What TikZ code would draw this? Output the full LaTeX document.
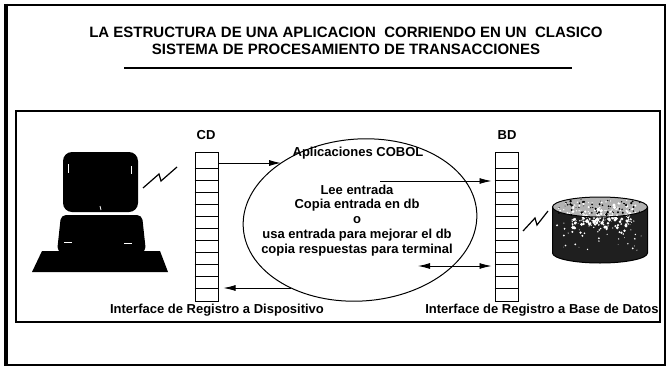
\documentclass[tikz,border=0pt]{standalone}
\usepackage{fontspec}
\setmainfont{Liberation Sans}
\usetikzlibrary{arrows.meta,calc,intersections}
\begin{document}
\begin{tikzpicture}[x=1pt,y=-1pt,
  frame/.style={draw=black,line width=1.3pt},
  titletext/.style={font=\bfseries\fontsize{15}{18}\selectfont,inner sep=0pt},
  labeltext/.style={font=\bfseries\fontsize{13}{15}\selectfont,inner sep=0pt},
  apptext/.style={font=\bfseries\fontsize{13}{15}\selectfont,inner sep=0pt},
  stack/.style={draw=black,line width=1pt,minimum width=23pt,minimum height=149pt,inner sep=0pt},
  cellline/.style={line width=0.9pt},
  flow/.style={line width=0.9pt,-{Latex[length=12pt,width=6pt]}},
  flowboth/.style={line width=0.9pt,{Latex[length=12pt,width=6pt]}-{Latex[length=12pt,width=6pt]}},
  zig/.style={line width=1.2pt,line join=miter},
  speck/.style={white,line width=0.8pt},
]
\useasboundingbox (0,0) rectangle (668,369);

% outer frame, heavier on the left
\draw[line width=1.2pt] (6,5) rectangle (665,365);
\draw[line width=3.5pt] (6,4) -- (6,366);

% title and its rule
\node[titletext] (t1) at (346,32) {LA ESTRUCTURA DE UNA APLICACION\ \ CORRIENDO EN UN\ \ CLASICO};
\node[titletext] (t2) at (346,49) {SISTEMA DE PROCESAMIENTO DE TRANSACCIONES};
\draw[line width=2.6pt] (124,68) -- (572,68);

% inner frame
\draw[frame] (16,111) rectangle (660,322);

% terminal
\fill[black,rounded corners=9pt] (63,152) rectangle (138,212);
\fill[black,rounded corners=5pt] (61,215) -- (142,215) -- (146,252) -- (57,252) -- cycle;
\fill[black] (42,251) -- (160,251) -- (168,272) -- (32,272) -- cycle;
\draw[speck] (68,164) -- (68,173);
\draw[speck] (131,166) -- (131,174);
\draw[speck] (100,206) -- (101,210);
\draw[speck] (64,242) -- (72,242);
\draw[speck] (124,243) -- (132,243);
\draw[zig] (143,188) -- (159,174) -- (161,181) -- (177,167);

% record stacks
\node[stack] (cd) at (206.5,226.5) {};
\node[stack] (bd) at (506.5,226.5) {};
\foreach \y in {168,180,...,288} {
  \draw[cellline] (cd.west |- 0,\y) -- (cd.east |- 0,\y);
  \draw[cellline] (bd.west |- 0,\y) -- (bd.east |- 0,\y);
}
\node[labeltext] (cdl) at (206,135) {CD};
\node[labeltext] (bdl) at (507,135) {BD};

% application oval
\draw[line width=1pt, name path=oval, rotate around={4:(360,220)}]
  (360,220) ellipse [x radius=117, y radius=81];
\node[apptext] (app) at (358,153) {Aplicaciones COBOL};
\node[apptext] (l1) at (357,190) {Lee entrada};
\node[apptext] (l2) at (357,205) {Copia entrada en db};
\node[apptext] (l3) at (357,220) {o};
\node[apptext] (l4) at (357,235) {usa entrada para mejorar el db};
\node[apptext] (l5) at (357,250) {copia respuestas para terminal};

% connector ends on the oval
\path[name path=rowin] (cd.east |- 0,163) -- (360,163);
\path[name path=rowout] (cd.east |- 0,288) -- (360,288);
\path[name intersections={of=oval and rowin, by=inCD}];
\path[name intersections={of=oval and rowout, by=outCD}];
\coordinate (toBD) at (380,181);
\coordinate (withBD) at (418,266);

\draw[flow] (cd.east |- inCD) -- (inCD);
\draw[flow] (outCD) -- ([xshift=5pt]cd.east |- outCD);
\draw[flow] (toBD) -- ([xshift=-3pt]bd.west |- toBD);
\draw[flowboth] (withBD) -- ([xshift=-3pt]bd.west |- withBD);

% database cylinder
\draw[zig] (523,231) -- (535,218) -- (537,225) -- (548,211);
\begin{scope}
  \clip (552.5,207) -- (552.5,253) arc[start angle=180,end angle=0,x radius=47.5,y radius=10]
        -- (647.5,207) arc[start angle=0,end angle=-180,x radius=47.5,y radius=10] -- cycle;
  \fill[black!88] (550,195) rectangle (650,265);
  \fill[black!30] (600,207) ellipse [x radius=47.5,y radius=10];
  \pgfmathsetseed{4711}
  \foreach \i in {1,...,150} {
    \pgfmathsetmacro\px{602+30*rand}
    \pgfmathsetmacro\py{220+18*rand*rnd}
    \pgfmathsetmacro\pr{0.4+1.4*rnd}
    \fill[white] (\px,\py) circle[radius=\pr];
  }
  \foreach \i in {1,...,45} {
    \pgfmathsetmacro\px{600+44*rand}
    \pgfmathsetmacro\py{227+25*rand}
    \pgfmathsetmacro\pr{0.3+0.8*rnd}
    \fill[white] (\px,\py) circle[radius=\pr];
  }
  \foreach \i in {1,...,60} {
    \pgfmathsetmacro\px{600+42*rand}
    \pgfmathsetmacro\py{207+8*rand}
    \pgfmathsetmacro\pr{0.4+1.0*rnd}
    \fill[black] (\px,\py) circle[radius=\pr];
  }
  \foreach \i in {1,...,40} {
    \pgfmathsetmacro\px{600+40*rand}
    \pgfmathsetmacro\py{207+7*rand}
    \pgfmathsetmacro\pr{0.4+0.9*rnd}
    \fill[white] (\px,\py) circle[radius=\pr];
  }
\end{scope}
\draw[line width=1pt] (552.5,207) -- (552.5,253) arc[start angle=180,end angle=0,x radius=47.5,y radius=10]
      -- (647.5,207);
\draw[line width=1pt] (600,207) ellipse [x radius=47.5,y radius=10];

% interface captions
\node[labeltext] (lcd) at (217,310) {Interface de Registro a Dispositivo};
\node[labeltext] (lbd) at (542,310) {Interface de Registro a Base de Datos};
\end{tikzpicture}
\end{document}
